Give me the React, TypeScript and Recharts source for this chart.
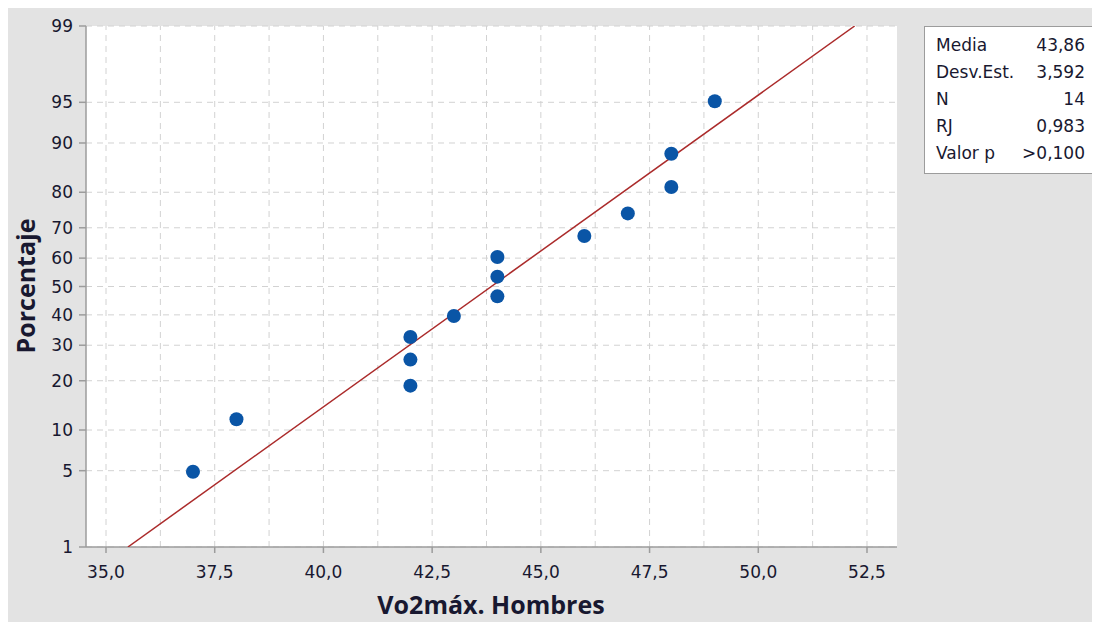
import React from 'react';
import { ScatterChart, Scatter, XAxis, YAxis, CartesianGrid, ReferenceLine, Label } from 'recharts';

// Vo2max values (sorted) and their plotting percentages
const vo2 = [37, 38, 42, 42, 42, 43, 44, 44, 44, 46, 47, 48, 48, 49];
const percent = [4.9, 11.8, 18.8, 25.7, 32.6, 39.6, 46.5, 53.5, 60.4, 67.4, 74.3, 81.3, 88.2, 95.1];

const xTicks = [35, 37.5, 40, 42.5, 45, 47.5, 50, 52.5];
const xGrid = [35, 36.25, 37.5, 38.75, 40, 41.25, 42.5, 43.75, 45, 46.25, 47.5, 48.75, 50, 51.25, 52.5];
const yTicks = [1, 5, 10, 20, 30, 40, 50, 60, 70, 80, 90, 95, 99];

const statLabels = ['Media', 'Desv.Est.', 'N', 'RJ', 'Valor p'];
const statValues = ['43,86', '3,592', '14', '0,983', '>0,100'];
const mean = 43.86;
const stdev = 3.592;
const fitPercent = [1, 99];

// inverse normal CDF (Acklam)
function probit(p: number): number {
  const a = [-39.69683028665376, 220.9460984245205, -275.9285104469687, 138.357751867269, -30.66479806614716, 2.506628277459239];
  const b = [-54.47609879822406, 161.5858368580409, -155.6989798598866, 66.80131188771972, -13.28068155288572];
  const c = [-0.007784894002430293, -0.3223964580411365, -2.400758277161838, -2.549732539343734, 4.374664141464968, 2.938163982698783];
  const d = [0.007784695709041462, 0.3224671290700398, 2.445134137142996, 3.754408661907416];
  const plow = 0.02425;
  if (p < plow) {
    const q = Math.sqrt(-2 * Math.log(p));
    return (((((c[0] * q + c[1]) * q + c[2]) * q + c[3]) * q + c[4]) * q + c[5]) / ((((d[0] * q + d[1]) * q + d[2]) * q + d[3]) * q + 1);
  }
  if (p <= 1 - plow) {
    const q = p - 0.5;
    const r = q * q;
    return ((((((a[0] * r + a[1]) * r + a[2]) * r + a[3]) * r + a[4]) * r + a[5]) * q) / (((((b[0] * r + b[1]) * r + b[2]) * r + b[3]) * r + b[4]) * r + 1);
  }
  const q = Math.sqrt(-2 * Math.log(1 - p));
  return -(((((c[0] * q + c[1]) * q + c[2]) * q + c[3]) * q + c[4]) * q + c[5]) / ((((d[0] * q + d[1]) * q + d[2]) * q + d[3]) * q + 1);
}

const points = vo2.map((x, i) => ({ x, z: probit(percent[i] / 100) }));
const fitData = fitPercent.map((p) => ({ x: mean + stdev * probit(p / 100), z: probit(p / 100) }));
const yTickZ = yTicks.map((p) => probit(p / 100));
const yDomain = [probit(0.01), probit(0.99)];
const xDomain = [34.54, 53.19];

const FONT = '"DejaVu Sans", sans-serif';
const TITLE_FONT = '"Open Sans", sans-serif';
const TEXT = '#181830';
const AXIS = '#9c9c9c';

const fmtX = (v: number) => v.toFixed(1).replace('.', ',');
const fmtY = (v: number) => {
  let best = 0;
  yTickZ.forEach((z, i) => {
    if (Math.abs(z - v) < Math.abs(yTickZ[best] - v)) best = i;
  });
  return String(yTicks[best]);
};

const Dot = (props: any) => <circle cx={props.cx} cy={props.cy} r={7} fill="#0a55a6" />;

export default function App() {
  return (
    <div style={{ position: 'relative', width: 1092, height: 614, background: '#e3e3e3', fontFamily: FONT }}>
      <ScatterChart width={1092} height={614} margin={{ top: 18, right: 203, bottom: 7, left: 18 }}>
        <CartesianGrid vertical={false} stroke="#d2d2d2" strokeDasharray="6 5" fill="#ffffff" />
        {xGrid.map((g) => (
          <ReferenceLine key={g} x={g} stroke="#d2d2d2" strokeDasharray="6 5" />
        ))}
        <XAxis
          type="number"
          dataKey="x"
          domain={xDomain}
          ticks={xTicks}
          tickFormatter={fmtX}
          allowDataOverflow
          height={68}
          stroke={AXIS}
          strokeWidth={1.5}
          tickSize={6}
          tickMargin={13}
          tick={{ fill: TEXT, fontSize: 17, fontFamily: FONT }}
        >
          <Label
            content={() => (
              <text x={483} y={606} textAnchor="middle" fill={TEXT} fontSize={25} fontWeight={700} fontFamily={TITLE_FONT}>
                Vo2máx. Hombres
              </text>
            )}
          />
        </XAxis>
        <XAxis xAxisId="top" orientation="top" type="number" domain={xDomain} allowDataOverflow height={0} tick={false} tickLine={false} stroke={AXIS} strokeWidth={1.5} />
        <YAxis
          type="number"
          dataKey="z"
          domain={yDomain}
          ticks={yTickZ}
          tickFormatter={fmtY}
          allowDataOverflow
          interval={0}
          width={60}
          stroke={AXIS}
          strokeWidth={1.5}
          tickSize={7}
          tickMargin={6}
          tick={{ fill: TEXT, fontSize: 17, fontFamily: FONT }}
        >
          <Label
            content={() => (
              <text
                x={17}
                y={278}
                textAnchor="middle"
                dominantBaseline="central"
                transform="rotate(-90, 17, 278)"
                fill={TEXT}
                fontSize={25}
                fontWeight={700}
                fontFamily={TITLE_FONT}
              >
                Porcentaje
              </text>
            )}
          />
        </YAxis>
        <YAxis yAxisId="right" orientation="right" type="number" domain={yDomain} allowDataOverflow width={0} tick={false} tickLine={false} stroke={AXIS} strokeWidth={1.5} />
        <Scatter
          data={fitData}
          line={{ stroke: '#ab2b2b', strokeWidth: 1.5 }}
          shape={() => <g />}
          isAnimationActive={false}
        />
        <Scatter data={points} shape={Dot} isAnimationActive={false} />
      </ScatterChart>
      <div
        style={{
          position: 'absolute',
          left: 916,
          top: 18,
          width: 171,
          height: 148,
          background: '#ffffff',
          border: `1.5px solid ${AXIS}`,
          boxSizing: 'border-box',
          padding: '5px 9px 0 11px',
          color: TEXT,
          fontSize: 17,
        }}
      >
        {statLabels.map((l, i) => (
          <div key={l} style={{ display: 'flex', justifyContent: 'space-between', height: 27, lineHeight: '27px' }}>
            <span>{l}</span>
            <span>{statValues[i]}</span>
          </div>
        ))}
      </div>
    </div>
  );
}
